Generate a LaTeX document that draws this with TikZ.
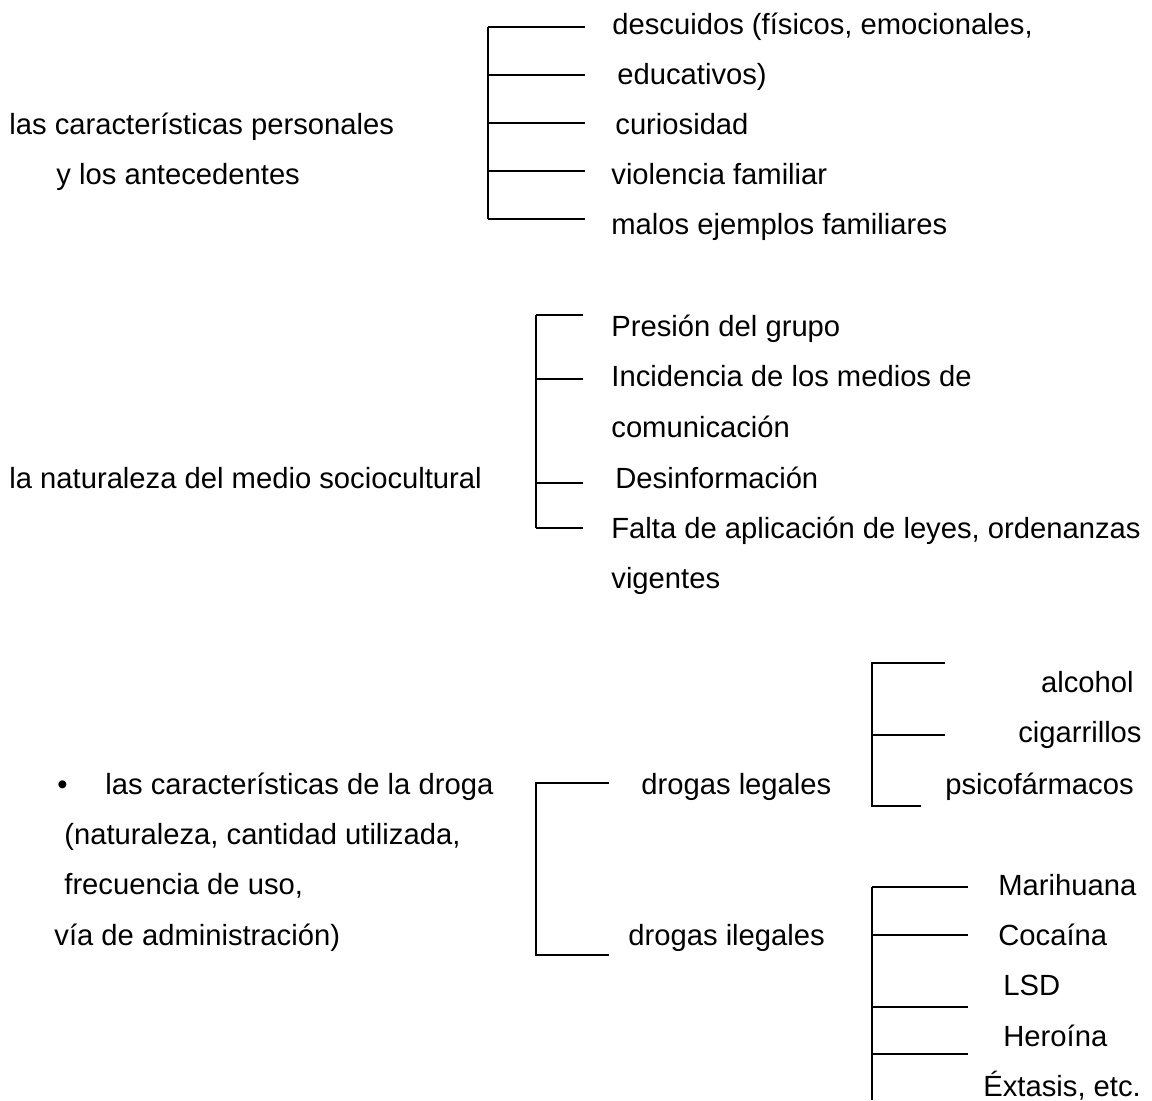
\documentclass[tikz,border=0pt]{standalone}
\usepackage{fontspec}
\setmainfont{Liberation Sans}
\begin{document}
\begin{tikzpicture}[x=0.5pt,y=-0.5pt,
  lbl/.style={inner sep=0pt,anchor=base west,font=\fontsize{14.6pt}{17pt}\selectfont},
  lblr/.style={lbl,anchor=base east},
  br/.style={line width=0.55pt,black}]
\useasboundingbox (0,0) rectangle (1152,1100);
% group 1
\node[lbl] (g1a) at (612,34) {descuidos (físicos, emocionales,};
\node[lbl] (g1b) at (617,84) {educativos)};
\node[lbl] (g1c) at (615,134) {curiosidad};
\node[lbl] (g1d) at (611,184) {violencia familiar};
\node[lbl] (g1e) at (611,234) {malos ejemplos familiares};
\node[lbl] (p1a) at (9,134) {las características personales};
\node[lbl] (p1b) at (56,184) {y los antecedentes};
\draw[br] (488,27) -- (488,219);
\foreach \y in {27,75,123,171,219} \draw[br] (488,\y) -- (585,\y);
% group 2
\node[lbl] (g2a) at (611,336) {Presión del grupo};
\node[lbl] (g2b) at (611,386) {Incidencia de los medios de};
\node[lbl] (g2c) at (611,437) {comunicación};
\node[lbl] (g2d) at (615,488) {Desinformación};
\node[lbl] (g2e) at (611,538) {Falta de aplicación de leyes, ordenanzas};
\node[lbl] (g2f) at (611,588) {vigentes};
\node[lbl] (p2) at (9,488) {la naturaleza del medio sociocultural};
\draw[br] (536,315) -- (536,528);
\foreach \y in {315,379,483,528} \draw[br] (536,\y) -- (583,\y);
% group 3
\node[lbl] (bul) at (57,794) {•};
\node[lbl] (p3a) at (105,794) {las características de la droga};
\node[lbl] (p3b) at (64,844) {(naturaleza, cantidad utilizada,};
\node[lbl] (p3c) at (64,894) {frecuencia de uso,};
\node[lbl] (p3d) at (54,945) {vía de administración)};
\node[lbl] (leg) at (641,794) {drogas legales};
\node[lbl] (ileg) at (628,945) {drogas ilegales};
\draw[br] (609,783) -- (536,783) -- (536,955) -- (609,955);
% legal
\node[lblr] (alc) at (1134,692) {alcohol};
\node[lblr] (cig) at (1142,742) {cigarrillos};
\node[lbl] (psi) at (945,794) {psicofármacos};
\draw[br] (945,663) -- (872,663) -- (872,806) -- (921,806);
\draw[br] (872,735) -- (945,735);
% illegal
\node[lbl] (mar) at (998,895) {Marihuana};
\node[lbl] (coc) at (998,945) {Cocaína};
\node[lbl] (lsd) at (1003,995) {LSD};
\node[lbl] (her) at (1003,1046) {Heroína};
\node[lbl] (ext) at (983,1096) {Éxtasis, etc.};
\draw[br] (872,887) -- (872,1100);
\foreach \y in {887,935,1007,1054} \draw[br] (872,\y) -- (968,\y);
\end{tikzpicture}
\end{document}
